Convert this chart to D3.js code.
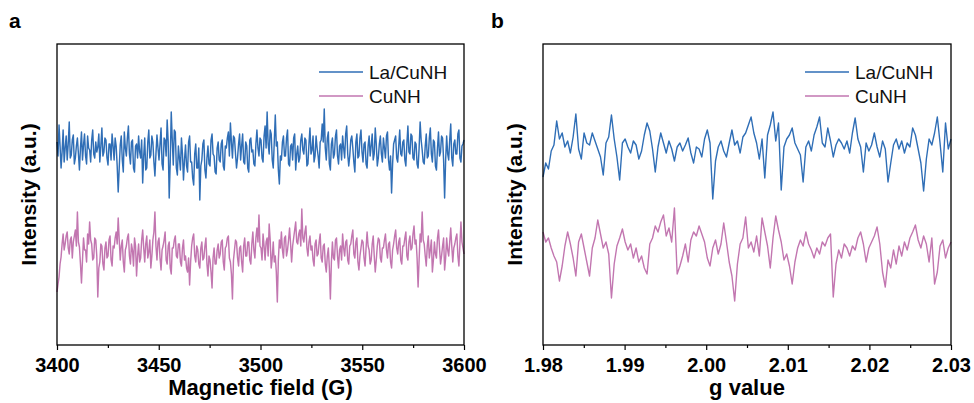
<!DOCTYPE html>
<html>
<head>
<meta charset="utf-8">
<script src="https://cdn.jsdelivr.net/npm/d3@7"></script>
<style>
    body { margin: 0; background: #fff; }
    text { font-family: "Liberation Sans", Arial, sans-serif; }
</style>
</head>
<body>
<svg id="chart" width="974" height="403"></svg>
<script>

// ---- data (intensity, arbitrary units) ----
const seriesNames = [ "La/CuNH", "CuNH" ];

const fieldRange  = [ 3400, 3600 ];
const fieldTicks  = [ 3400, 3450, 3500, 3550, 3600 ];
const fieldMinor  = [ 3425, 3475, 3525, 3575 ];

const gRange      = [ 1.98, 2.03 ];
const gTicks      = [ 1.98, 1.99, 2.00, 2.01, 2.02, 2.03 ];
const gMinor      = [ 1.985, 1.995, 2.005, 2.015, 2.025 ];

const laCuNH_field = [
     8, -6, 25,  4,-18, -2, 20,-12,  2, 14,-10,  6, 28, -8, -5, 10, 15,-14, -8,  4,
    12, -4,-20,  2, 18,-10,  5, 16, -6,-14, 14,  2,  0,-12, 10, 20, -4, -8,  8, -2,
     3, 16,-12,  4, 22, -6, -2, 12, 10, -8,-15,  6,  6,-10, 16,  4,-10, 12,  4,-16,
   -42,-18,  5, 14,-10,-22, 18,  2, -6, 12, 24, -4,-14,  8, 10,-18,-22,  4,  6, -8,
    14, -2, -8, 10,-33, -6, 12,-20,-18,  8, 20, -8, -5, 14,  8,-12,-26, -4, 15,  2,
   -10,  6, 22,-14,-20, 12, 10, -6, 30,  8,-48,-12, 38, 10,-15, 20, 18,-18,-25,  4,
    -8,-20, 12, -4,-30,-10,  5,-16,-22,  8, 14,-12,-12,-28,-35, -4,  6,-18,-18,  2,
   -50,-16,-10,  6, 10,-20,-28, -8,  4,-14,-16, 10, 16, -4, -6,-22,-24,  2,  8,-10,
   -12,  6, 10,-16,-20,  4,  2, 12, 18, -6, 27,  8, -8, 14, 12, -4,-18, -8,  6, 16,
   -10,  4, 16,-12,-14,  8,  4,-18,-22, 10, 12, -2,  0,-14,-16,  6, 20,  2, -6, 12,
    10, -8,-12, 14, 24,  2, 38,  6, -4, 20, 16,-10,-18,  8, 35,  4,  8,-20,-34, -6,
   -10,  8, 14, -6, -6, 12, 20,-14,-16,  4,  6,-10, 12, 16,-20, -4,  4,-12, -8, 10,
    16,  0, -4, 12, 10,-16,-14,  6, 22, -4,  0, 14,-12, -6, 14,  2, -6,-18,  8, 10,
    26,  8, 41,  2,-10, 12, 18,-14,-20,  6, 12, -8, -4, 14, 20, -6,-14,  4,  6,-10,
    14,  2, -8, 16, 24, -4,-16, -6, 10, 14,  2,-12,-22,  8, 16, -8, -6, 12, 20, -2,
   -12,  6,  8,-14,-18,  4, 14, -6,  4, 16,-10, -4, 22,  6,-16, -8,  6, 14, -4,-12,
    12,  2, -8, 14, 18,-10,-20, -6,-43,-14,  6, 10, 14, -8,-12,  4, 20, -4, -6,  8,
    10,-10,-16,  6, 24, -2, -4, 16, 14, -8,-10,  8,  6,-14,-18,  2, 28, 10,  0,-12,
   -14,  4, 16, -8, -6, 12, 22, -4,-12, 10,  8,-16,-20,  2, 18, -6, -2, 14, 12,-10,
   -48,-10, 14, -4,-10, 10, 26, -8,-16,  6, 10, -4, -4, 16, 20, -8,-12,  4,  6, 10
];

const cuNH_field = [
   -40,-32,-25,-12, -5,  8, 18,  2,  8, 16, 20,  4, -2, 12, 15, -6, 10, 16, 22,  6,
    40, 10,  5,-12,-31, -8, 14,  2,  2,-10, 18,  8, 30, 12,  8, -8, -6, 14, 12, -4,
   -45,-16,-10,  8,  6,-12,-18,  4, 10, -6, -4, 12, 16, -8,-14,  6,  4, 14, 20,  8,
    34, 12, -8,  6, 12,-10,-20,  2,  6, 14, 18, -4,-12,  8,  2,-14, 14,  6,-24, -4,
     8,-10, -6, 12, 22,  4,-10,  8, 16, -6,  0, 12,-16, -4, 12, 20, 40,  6, -8, 10,
    14, -6,-18,  2,  6, 12, 20, -8,-12,  6, 10,-16,-22,  4,  4, 12, 16, -4, -6,  8,
     8,-10,-14,  4, 12, -8, -4,-16,-20, -6,-33,-10,  6, 14, 18, -4,-10,  6,  2,-12,
   -16,  4, 10, -8, -6,  6, 14,-12,-24, -4, -8,-20,-36, -6,  4,-12,-12,  2,  8, -6,
    -2, 10, 12,-10,-18,  4,  6, 14, 16, -6,-10,-22,-47, -8,  2, 12, 10, -6,-14,  4,
     6,-10,-20,  6, 14, -4, -4, 10, 10, -8,-12,  8, 20,  2, -6, 14, 24, 10, 37,  6,
     4, -8, 18,  6, -8, 10, 14, -4, 28, 12,-16, -6, 10,-10, -4,-20,-50, -8, 12,  4,
    20,  2, -6, 14, 16, -4,  2, 12, 24,  8,-10,  6, 14, 22, 30, 10,  8, 18, 22,  6,
    43, 14, 10, 20, 26,  4, -4, 10, 16,  2,  6, -8,-14,  8, 12, -4, -2, 10, 18, -6,
   -10,  6,  8,-12,-20, -4,  4,-16,-47,-10, 10, -6, -8, 12, 14, -4,-16,  2,  6, -8,
    18,  4, -4, 10, 12, -8,-12,  6,  8, 16, 22, -2, -6, 10, 14,-10,-18, -4,  4, 12,
    10, -6,-14,  4, 20,  6,  2,-12, -8,  8, 16, -4,-20, -8,  6, 14, 12, -6,-10,  4,
     4, 12, 18,  2, -6,  8, 10,-10,-16,  2,  8, 16, 22,  4, -2, 10, 14, -8,-12,  6,
     6, 14, 20, -4, -8, 10, 16,  2,  4, 18, 26,  8, 12, -6,-35, -8, 18, 10, 40, 12,
     8, -4,-14,  6, 16, -6,  2, 12,-20, -8, 10, -2, -6, 14, 22,  4,-12, -4,  6, 14,
   -18, -6, 14,  2, -4, 10, 24,  6,-10,  4,  8, 14, 18, -4,-14,  8, 30, 10,  4, -2
];

const laCuNH_g = [
   -24, -10, -16,   2,   8,  32,  14,  20,   6,  12,
     0,  16,  39,   4,  -6,  20,  10,   8,  20,  12,
     4,  -4, -22,  10,  16,  38,  14,  -4, -27,  10,
    14,   6,   0,  12,   8,  -6,   2,  18,  30,  22,
     4, -19,   6,  20,  10,   0,  12,   4,  -8,   6,
    10,   2,   8,  15,   0, -10,   6,   4,  -4,  14,
    23,  10, -46,  -8,   6,  12,   2,  -4,  10,  23,
     8,  12,   0,  16,  20,  28,  36,  20,  10,  -6,
    14, -25,  18,  28,  41,  12,  30, -37,   6,  14,
    18,  25,  10,   4,  -2, -29,   6,  12,   2,  18,
    26,  36,  10,   6,  25,  12,  -4,   8,  14,  10,
     4,  12,   0,  20,  35,  14,   6, -19,  10,   2,
     8,  20,   6,  -4,  12,   4, -29, -10,   8,  14,
     4,  12,   0,  10,   6,  25,  18,   4, -10, -38,
    -6,  14,   8,  20,  36,  10, -19,  30,   4,  14
];

const cuNH_g = [
    20,  10,  14,   4,  -4, -10, -29, -14,   6,  20,
     8,  -6, -24,  10,  18,   4, -10, -24,   4,  14,
    32,  18,   4,  10,  -2, -46, -12,   6,  14,  23,
    10,   2,   8,  -6,   4, -10,  -4, -16, -22,   8,
    14,  26,  20,  30,  37,  16,  24,  10,  44, -22,
   -14,  -4,   8, -10,  12,  20,  16,  26,  18,  10,
    -6, -14,   4,  12,  -2,   8,  29,  10, -10, -24,
   -49, -12,   8,  14,  35,   4,  10,   0,  16,  -4,
    34,  20,   6, -16,  14,  36,  22,  10,  -8,  -2,
   -14, -32, -10,   4,  12,   6,  20,   8,   2,  -6,
     4,  -2,  10,   6,  14,  18, -45, -12,   2,  -6,
     8,   4,  -4,   6,   2,  14,  20,   8, -10,   4,
    10,  16,  25,   8, -20, -35,  -8, -16,   2, -12,
     6,  -4,  10,   2,  14,  20,  27,  12,   4,  16,
     8, -10,  14, -32, -20,   6,  12,  -6,   4,  10
];

// ---- styling ----
const colors   = [ "#2f6eb6", "#c276b0" ];
const yDomain  = [ -93, 208 ];
const plotTop  = 44;
const plotBot  = 345;

const svg = d3.select( "#chart" );

function drawPanel( p )
{
    const x = d3.scaleLinear()
        .domain( p.domain )
        .range(  [ p.left, p.right ] );

    const y = d3.scaleLinear()
        .domain( yDomain )
        .range(  [ plotBot, plotTop ] );

    const g = svg.append( "g" );

    // spectra
    p.series.forEach( ( vals, k ) =>
    {
        const n    = vals.length;
        const step = ( p.domain[1] - p.domain[0] ) / ( n - 1 );
        const pts  = vals.map( ( v, i ) => [ p.domain[0] + i * step, v + ( k === 0 ? p.offset : 0 ) ] );

        g.append( "path" )
            .datum( pts )
            .attr( "fill", "none" )
            .attr( "stroke", colors[k] )
            .attr( "stroke-width", p.lineWidth )
            .attr( "stroke-linejoin", "round" )
            .attr( "d", d3.line().x( d => x( d[0] ) ).y( d => y( d[1] ) ) );
    });

    // frame
    g.append( "rect" )
        .attr( "x", p.left )
        .attr( "y", plotTop )
        .attr( "width",  p.right - p.left )
        .attr( "height", plotBot - plotTop )
        .attr( "fill", "none" )
        .attr( "stroke", "#000" )
        .attr( "stroke-width", 1.3 );

    // axis
    const ax = g.append( "g" )
        .attr( "transform", `translate(0,${ plotBot })` )
        .call( d3.axisBottom( x ).tickValues( p.ticks ).tickFormat( p.format ).tickSize( 5 ).tickSizeOuter( 0 ).tickPadding( 8 ) );

    ax.select( ".domain" ).remove();
    ax.selectAll( "line" ).attr( "stroke", "#000" ).attr( "stroke-width", 1.2 );
    ax.selectAll( "text" )
        .attr( "fill", "#000" )
        .style( "font-size", "20px" )
        .style( "font-weight", "bold" )
        .style( "font-family", '"Liberation Sans", Arial, sans-serif' );

    const mx = g.append( "g" )
        .attr( "transform", `translate(0,${ plotBot })` )
        .call( d3.axisBottom( x ).tickValues( p.minor ).tickFormat( "" ).tickSize( 3 ).tickSizeOuter( 0 ) );

    mx.select( ".domain" ).remove();
    mx.selectAll( "line" ).attr( "stroke", "#000" ).attr( "stroke-width", 1.2 );

    // titles
    g.append( "text" )
        .attr( "x", ( p.left + p.right ) / 2 )
        .attr( "y", 395 )
        .attr( "text-anchor", "middle" )
        .style( "font-size", "22px" )
        .style( "font-weight", "bold" )
        .text( p.xTitle );

    g.append( "text" )
        .attr( "transform", `translate(${ p.left - 21 },${ ( plotTop + plotBot ) / 2 }) rotate(-90)` )
        .attr( "text-anchor", "middle" )
        .style( "font-size", "21px" )
        .style( "font-weight", "bold" )
        .text( "Intensity (a.u.)" );

    g.append( "text" )
        .attr( "x", p.labelX )
        .attr( "y", 28 )
        .style( "font-size", "21px" )
        .style( "font-weight", "bold" )
        .text( p.label );

    // legend
    seriesNames.forEach( ( name, k ) =>
    {
        const ly = 72 + k * 24;

        g.append( "line" )
            .attr( "x1", p.left + 262 )
            .attr( "x2", p.left + 306 )
            .attr( "y1", ly )
            .attr( "y2", ly )
            .attr( "stroke", colors[k] )
            .attr( "stroke-width", 1.4 );

        g.append( "text" )
            .attr( "x", p.left + 312 )
            .attr( "y", ly + 7 )
            .style( "font-size", "19px" )
            .attr( "fill", "#111" )
            .text( name );
    });
}

drawPanel({
    left: 57, right: 464,
    domain: fieldRange, ticks: fieldTicks, minor: fieldMinor,
    format: d3.format( "d" ),
    xTitle: "Magnetic field (G)", label: "a", labelX: 9,
    series: [ laCuNH_field, cuNH_field ], offset: 102, lineWidth: 1.45
});

drawPanel({
    left: 543, right: 951,
    domain: gRange, ticks: gTicks, minor: gMinor,
    format: d3.format( ".2f" ),
    xTitle: "g value", label: "b", labelX: 491,
    series: [ laCuNH_g, cuNH_g ], offset: 99, lineWidth: 1.4
});

</script>
</body>
</html>
